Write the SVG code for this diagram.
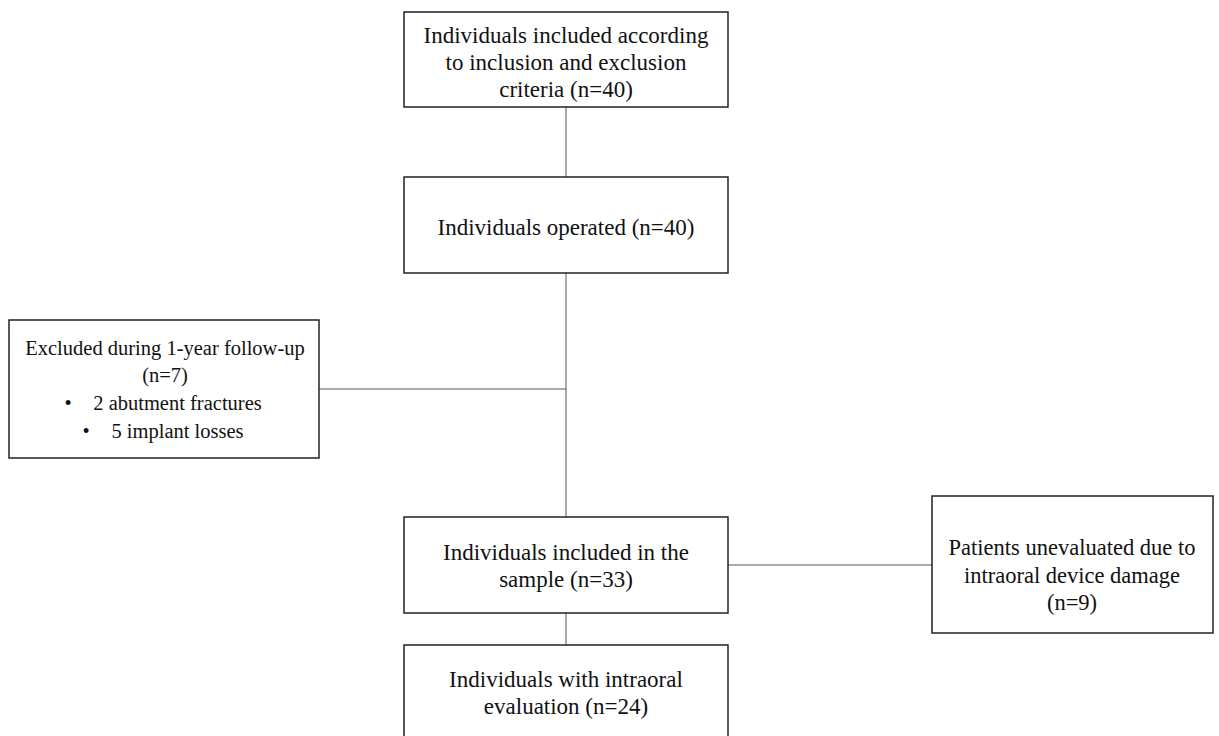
<svg xmlns="http://www.w3.org/2000/svg" width="1219" height="736" viewBox="0 0 1219 736">
<style>
.box{fill:#fff;stroke:#222;stroke-width:1.5}
.ln{stroke:#555;stroke-width:1;fill:none}
text{font-family:"Liberation Serif","Times New Roman",serif;font-size:23px;fill:#111;text-anchor:middle}
.sm{font-size:20.5px}
.md{font-size:22.5px}
</style>
<rect width="1219" height="736" fill="#fff"/>
<g id="connectors">
<line class="ln" x1="566" y1="107" x2="566" y2="177"/>
<line class="ln" x1="566" y1="273" x2="566" y2="517"/>
<line class="ln" x1="319" y1="389" x2="566" y2="389"/>
<line class="ln" x1="566" y1="613" x2="566" y2="645"/>
<line class="ln" x1="728" y1="565" x2="932" y2="565"/>
</g>
<g id="n1">
<rect class="box" x="404" y="12" width="324" height="95"/>
<text x="566" y="43">Individuals included according</text>
<text x="566" y="70">to inclusion and exclusion</text>
<text x="566" y="97">criteria (n=40)</text>
</g>
<g id="n2">
<rect class="box" x="404" y="177" width="324" height="96"/>
<text x="566" y="235">Individuals operated (n=40)</text>
</g>
<g id="n3">
<rect class="box" x="9" y="320" width="310" height="138"/>
<text class="sm" x="165" y="355">Excluded during 1-year follow-up</text>
<text class="sm" x="165" y="382">(n=7)</text>
<text class="sm" x="68" y="410">•</text>
<text class="sm" x="177.5" y="410">2 abutment fractures</text>
<text class="sm" x="86" y="438">•</text>
<text class="sm" x="177.5" y="438">5 implant losses</text>
</g>
<g id="n4">
<rect class="box" x="404" y="517" width="324" height="96"/>
<text x="566" y="560">Individuals included in the</text>
<text x="566" y="587">sample (n=33)</text>
</g>
<g id="n5">
<rect class="box" x="404" y="645" width="324" height="100"/>
<text x="566" y="687">Individuals with intraoral</text>
<text x="566" y="714">evaluation (n=24)</text>
</g>
<g id="n6">
<rect class="box" x="932" y="496" width="281" height="137"/>
<text class="md" x="1072" y="555">Patients unevaluated due to</text>
<text class="md" x="1072" y="583">intraoral device damage</text>
<text class="md" x="1072" y="610">(n=9)</text>
</g>
</svg>
